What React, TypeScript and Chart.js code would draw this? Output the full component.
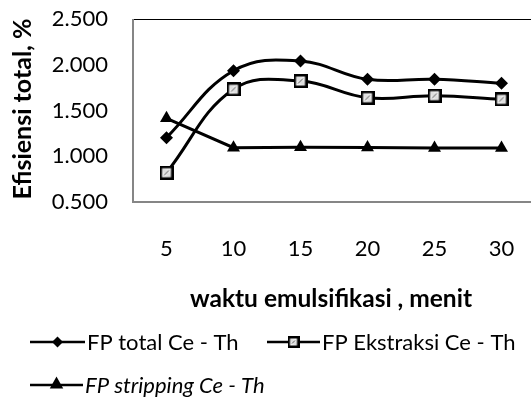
import React, { useEffect, useRef } from 'react';
import { Chart, registerables } from 'chart.js';

Chart.register(...registerables);

const categories = ['5', '10', '15', '20', '25', '30'];
const fpTotal = [1.203, 1.935, 2.041, 1.841, 1.842, 1.797];
const fpEkstraksi = [0.82, 1.732, 1.822, 1.64, 1.662, 1.622];
const fpStripping = [1.415, 1.094, 1.097, 1.095, 1.09, 1.09];
const yMin = 0.5;
const yMax = 2.5;
const yStep = 0.5;
const seriesLabels = ['FP total Ce - Th', 'FP Ekstraksi Ce - Th', 'FP stripping Ce - Th'];
const xTitle = 'waktu emulsifikasi , menit';
const yTitle = 'Efisiensi total, %';

const FONT = 'Lato, "Open Sans", sans-serif';

function makeSquare(size: number, border: number): HTMLCanvasElement {
  const c = document.createElement('canvas');
  c.width = size;
  c.height = size;
  const g = c.getContext('2d')!;
  g.fillStyle = '#000';
  g.fillRect(0, 0, size, size);
  const inset = border;
  const grad = g.createLinearGradient(inset, size - inset, size - inset, inset);
  grad.addColorStop(0, '#ffffff');
  grad.addColorStop(0.5, '#dcdcdc');
  grad.addColorStop(1, '#ffffff');
  g.fillStyle = grad;
  g.fillRect(inset, inset, size - 2 * inset, size - 2 * inset);
  g.strokeStyle = '#666';
  g.lineWidth = 1;
  g.beginPath();
  g.moveTo(inset + 2, size - inset - 2);
  g.lineTo(size - inset - 2, inset + 2);
  g.stroke();
  return c;
}

function drawDiamond(ctx: CanvasRenderingContext2D, x: number, y: number, r: number) {
  ctx.beginPath();
  ctx.moveTo(x, y - r);
  ctx.lineTo(x + r, y);
  ctx.lineTo(x, y + r);
  ctx.lineTo(x - r, y);
  ctx.closePath();
  ctx.fill();
}

function drawTriangle(ctx: CanvasRenderingContext2D, x: number, y: number, r: number) {
  ctx.beginPath();
  ctx.moveTo(x, y - r);
  ctx.lineTo(x + r * 0.9, y + r * 0.6);
  ctx.lineTo(x - r * 0.9, y + r * 0.6);
  ctx.closePath();
  ctx.fill();
}

const framePlugin = {
  id: 'frame',
  beforeDatasetsDraw(chart: any) {
    const { ctx, chartArea } = chart;
    const { left, top, right, bottom } = chartArea;
    ctx.save();
    ctx.strokeStyle = '#000';
    ctx.lineWidth = 1;
    ctx.beginPath();
    ctx.moveTo(left, top + 0.5);
    ctx.lineTo(right - 0.5, top + 0.5);
    ctx.lineTo(right - 0.5, bottom);
    ctx.stroke();
    ctx.strokeStyle = '#868686';
    ctx.lineWidth = 2;
    ctx.beginPath();
    ctx.moveTo(left, top);
    ctx.lineTo(left, bottom);
    ctx.lineTo(right, bottom);
    ctx.stroke();
    ctx.restore();
  },
  afterDraw(chart: any) {
    const { ctx } = chart;
    ctx.save();
    ctx.fillStyle = '#000';
    ctx.textBaseline = 'middle';
    // x title
    ctx.font = `bold 24.5px ${FONT}`;
    ctx.textAlign = 'center';
    ctx.fillText(xTitle, 331, 299);
    // y title
    ctx.save();
    ctx.translate(23, 109);
    ctx.rotate(-Math.PI / 2);
    ctx.font = `bold 25px ${FONT}`;
    ctx.fillText(yTitle, 0, 0);
    ctx.restore();

    // legend
    const items = [
      { x0: 30, x1: 85, y: 342, label: seriesLabels[0], italic: false, kind: 'diamond' },
      { x0: 267, x1: 320, y: 342, label: seriesLabels[1], italic: false, kind: 'square' },
      { x0: 30, x1: 83, y: 385, label: seriesLabels[2], italic: true, kind: 'triangle' },
    ];
    const sq = makeSquare(12, 2.5);
    items.forEach((it) => {
      ctx.strokeStyle = '#000';
      ctx.lineWidth = 2.5;
      ctx.beginPath();
      ctx.moveTo(it.x0, it.y);
      ctx.lineTo(it.x1, it.y);
      ctx.stroke();
      const cx = (it.x0 + it.x1) / 2;
      ctx.fillStyle = '#000';
      if (it.kind === 'diamond') drawDiamond(ctx, cx, it.y, 5.5);
      else if (it.kind === 'square') ctx.drawImage(sq, cx - 6, it.y - 6);
      else drawTriangle(ctx, cx, it.y - 1, 7.5);
      ctx.fillStyle = '#000';
      ctx.textAlign = 'left';
      ctx.font = `${it.italic ? 'italic ' : ''}22px ${FONT}`;
      ctx.fillText(it.label, it.x1 + 2, it.y + 1);
    });
    ctx.restore();
  },
};

export default function App() {
  const ref = useRef<HTMLCanvasElement | null>(null);

  useEffect(() => {
    if (!ref.current) return;
    const square = makeSquare(14, 2.5);
    const chart = new Chart(ref.current, {
      type: 'line',
      data: {
        labels: categories,
        datasets: [
          {
            label: seriesLabels[0],
            data: fpTotal,
            borderColor: '#000',
            backgroundColor: '#000',
            borderWidth: 3,
            tension: 0.4,
            pointStyle: 'rectRot',
            pointRadius: 6.5,
            pointBorderWidth: 0,
            pointBackgroundColor: '#000',
          },
          {
            label: seriesLabels[1],
            data: fpEkstraksi,
            borderColor: '#000',
            backgroundColor: '#000',
            borderWidth: 3,
            tension: 0.4,
            pointStyle: square as any,
            pointRadius: 7,
          },
          {
            label: seriesLabels[2],
            data: fpStripping,
            borderColor: '#000',
            backgroundColor: '#000',
            borderWidth: 3,
            tension: 0,
            pointStyle: 'triangle',
            pointRadius: 7.5,
            pointBorderWidth: 0,
            pointBackgroundColor: '#000',
          },
        ],
      },
      options: {
        animation: false,
        responsive: false,
        layout: { padding: { top: 19, right: 10, left: 0, bottom: 0 } },
        plugins: {
          legend: { display: false },
          tooltip: { enabled: false },
        },
        scales: {
          x: {
            offset: true,
            grid: { display: false, drawTicks: false, offset: true },
            border: { display: false },
            ticks: {
              color: '#000',
              font: { family: FONT, size: 22 },
              padding: 34,
              maxRotation: 0,
            },
            afterFit: (s: any) => {
              s.height = 203;
              s.paddingLeft = 0;
              s.paddingRight = 0;
            },
          },
          y: {
            min: yMin,
            max: yMax,
            grid: { display: false, drawTicks: false },
            border: { display: false },
            ticks: {
              stepSize: yStep,
              color: '#000',
              font: { family: FONT, size: 22 },
              padding: 25,
              callback: (v: any) => Number(v).toFixed(3),
            },
            afterFit: (s: any) => {
              s.width = 133;
              s.paddingTop = 0;
              s.paddingBottom = 0;
            },
          },
        },
      },
      plugins: [framePlugin],
    });
    return () => chart.destroy();
  }, []);

  return (
    <div style={{ position: 'fixed', left: 0, top: 0, width: 531, height: 405, overflow: 'hidden', background: '#fff' }}>
      <canvas ref={ref} width={545} height={405} style={{ display: 'block' }} />
    </div>
  );
}
